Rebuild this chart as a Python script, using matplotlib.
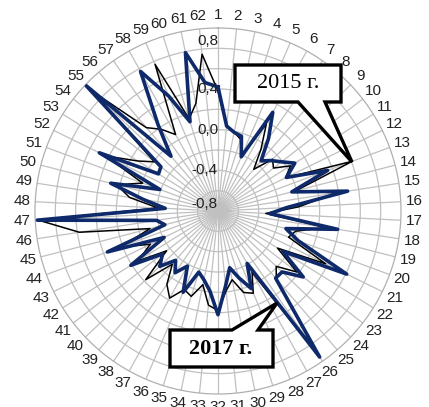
import numpy as np
import matplotlib.pyplot as plt
from matplotlib.patches import Polygon

categories = [str(i) for i in range(1, 63)]

values_2015 = [0.38, 0.04, -0.01, -0.06, -0.21, 0.18, -0.06, -0.26, -0.06, -0.11,
               0.04, -0.06, 0.61, -0.01, 0.38, -0.01, -0.33, 0.28, -0.01, -0.06,
               0.38, -0.11, 0.18, -0.01, 0.08, 0.92, -0.11, 0.08, 0.04, -0.11,
               -0.01, 0.18, 0.13, -0.06, 0.08, 0.04, 0.18, 0.08, -0.11, 0.18,
               -0.16, 0.13, -0.06, 0.23, -0.11, 0.58, 0.97, -0.21, 0.08, 0.23,
               -0.01, 0.43, 0.13, -0.01, 0.92, 0.28, 0.18, 0.06, 0.77, 0.15,
               0.28, 0.75]

values_2017 = [0.42, 0.04, -0.01, -0.03, -0.22, 0.31, 0.07, -0.15, -0.08, -0.01,
               0.09, -0.05, 0.35, -0.05, 0.49, -0.12, -0.29, 0.39, -0.11, 0.04,
               0.61, -0.05, 0.26, 0.07, 0.07, 0.95, -0.21, 0.03, -0.11, -0.23,
               -0.06, 0.22, -0.01, -0.11, -0.17, 0.07, -0.18, -0.06, -0.16, -0.01,
               -0.11, 0.21, -0.21, 0.36, -0.26, -0.19, 0.98, -0.28, -0.06, 0.29,
               -0.19, 0.50, -0.11, -0.09, 0.99, -0.09, 0.23, 0.77, 0.43, 0.12,
               0.79, 0.47]

r_ticks = [-0.8, -0.4, 0.0, 0.4, 0.8]
r_tick_labels = ['-0,8', '-0,4', '0,0', '0,4', '0,8']

W, H = 429, 407
fig = plt.figure(figsize=(W / 100, H / 100), dpi=100)
# polar area: centre (218, 211) px, radius 183 px
ax = fig.add_axes([35 / W, 13 / H, 366 / W, 366 / H], projection='polar')

n = len(categories)
angles = np.linspace(0, 2 * np.pi, n, endpoint=False)
ang = np.append(angles, angles[0])

ax.set_theta_zero_location('N')
ax.set_theta_direction(-1)
ax.set_ylim(-0.8, 1.0)

ax.plot(ang, values_2015 + values_2015[:1], color='black', lw=1.1, zorder=3)
ax.plot(ang, values_2017 + values_2017[:1], color='#0E2A6A', lw=2.6, zorder=4)

ax.set_xticks(angles)
ax.set_xticklabels(categories, fontsize=11, family='Liberation Sans', color='#222222')
ax.tick_params(axis='x', pad=-0.8)
ax.set_yticks(np.arange(-0.6, 0.9, 0.2))
ax.set_yticklabels([])
ax.grid(True, color='#C0C0C0', lw=0.9)
ax.spines['polar'].set_color('#B0B0B0')
ax.spines['polar'].set_linewidth(0.9)

for r, lab in zip(r_ticks, r_tick_labels):
    if r == -0.8:
        va = 'bottom'
    elif r == 0.8:
        va = 'bottom'
    else:
        va = 'center'
    ax.text(0, r, lab, ha='right', va=va,
            fontsize=11, family='Liberation Sans', color='#222222', zorder=5)


def px(points):
    return [(x / W, 1 - y / H) for x, y in points]


# callout 2015
c1 = [(235, 65), (341, 65), (341, 102), (325, 102), (352, 162), (298, 102), (235, 102)]
fig.add_artist(Polygon(px(c1), closed=True, fc='white', ec='black', lw=2.4,
                       transform=fig.transFigure, zorder=10, joinstyle='miter'))
fig.text(288 / W, 1 - 84 / H, '2015 г.', ha='center', va='center', fontsize=16,
         family='Liberation Serif', zorder=11)

# callout 2017
c2 = [(170, 330), (232, 330), (277, 303), (258, 330), (273, 330), (273, 367), (170, 367)]
fig.add_artist(Polygon(px(c2), closed=True, fc='white', ec='black', lw=2.4,
                       transform=fig.transFigure, zorder=10, joinstyle='miter'))
fig.text(221 / W, 1 - 349 / H, '2017 г.', ha='center', va='center', fontsize=16,
         family='Liberation Serif', weight='bold', zorder=11)

fig.savefig('out.png', dpi=100)
